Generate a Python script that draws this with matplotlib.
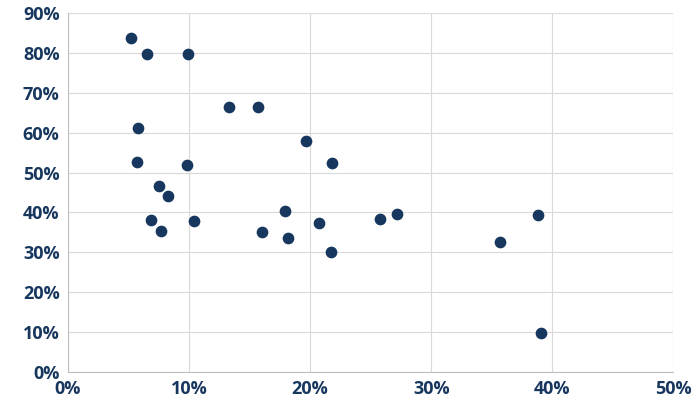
import matplotlib.pyplot as plt
from matplotlib.ticker import PercentFormatter

# values in percent
x_vals = [5.2, 6.5, 9.9, 13.3, 15.7, 5.8, 19.7, 5.7, 9.8, 21.8, 7.5, 8.3, 6.9,
          10.4, 7.7, 17.9, 16.0, 18.2, 20.7, 21.7, 25.8, 27.2, 35.7, 38.8, 39.1]
y_vals = [83.7, 79.7, 79.7, 66.4, 66.4, 61.2, 57.9, 52.6, 51.9, 52.4, 46.6, 44.1, 38.1,
          37.8, 35.3, 40.4, 35.1, 33.6, 37.3, 30.1, 38.3, 39.6, 32.6, 39.3, 9.8]

navy = "#17375e"
plt.rcParams['font.family'] = ['Open Sans', 'DejaVu Sans']

fig, ax = plt.subplots(figsize=(7, 4.13), dpi=100)
fig.subplots_adjust(left=0.097, right=0.962, top=0.968, bottom=0.1)

ax.scatter(x_vals, y_vals, s=55, color=navy, zorder=3)
ax.set_xlim(0, 50)
ax.set_ylim(0, 90)
ax.set_xticks(range(0, 51, 10))
ax.set_yticks(range(0, 91, 10))
ax.xaxis.set_major_formatter(PercentFormatter(decimals=0))
ax.yaxis.set_major_formatter(PercentFormatter(decimals=0))
ax.grid(True, color="#d9d9d9", linewidth=0.8)
ax.set_axisbelow(True)
for s in ["top", "right"]:
    ax.spines[s].set_visible(False)
for s in ["left", "bottom"]:
    ax.spines[s].set_color("#bfbfbf")
ax.tick_params(length=0, labelsize=13, labelcolor=navy, pad=6)
for lbl in ax.get_xticklabels() + ax.get_yticklabels():
    lbl.set_fontweight("bold")

fig.savefig("out.png")
